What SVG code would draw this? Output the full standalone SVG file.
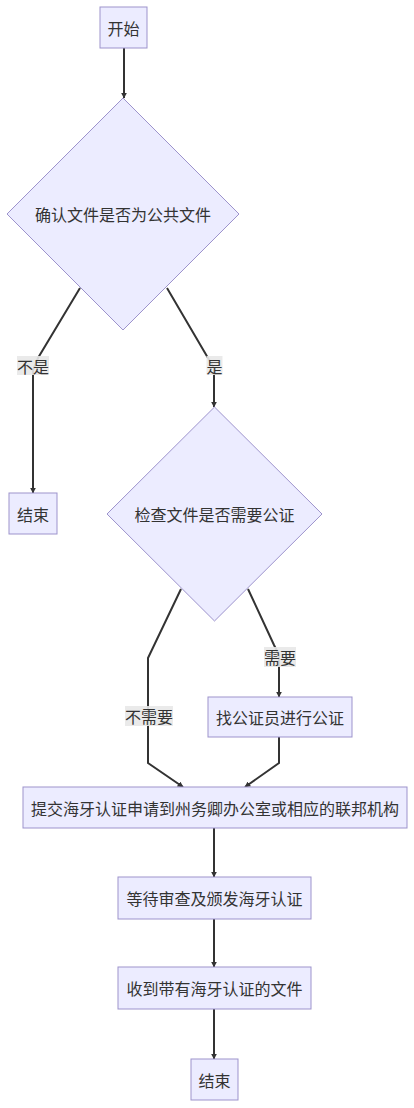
<svg xmlns="http://www.w3.org/2000/svg" width="414" height="1108" viewBox="0 0 414 1108">
<style>
.node{fill:#ECECFF;stroke:#9d93cc;stroke-width:1}
.t{font-family:"Noto Sans CJK SC","Liberation Sans",sans-serif;font-size:16px;fill:#333;text-anchor:middle;dominant-baseline:central}
.edge{fill:none;stroke:#333;stroke-width:2}
.lbl{fill:#e8e8e8;opacity:0.9}
</style>
<defs>
<marker id="arr" viewBox="0 0 10 10" refX="9" refY="5" markerWidth="6" markerHeight="6" orient="auto" markerUnits="userSpaceOnUse">
<path d="M0,0 L10,5 L0,10 z" fill="#333"/>
</marker>
</defs>
<rect width="414" height="1108" fill="#fff"/>
<g id="edges">
<path class="edge" d="M124,48 L124,98" marker-end="url(#arr)"/>
<path class="edge" d="M80,288 L38,358 L33,370 L33,493" marker-end="url(#arr)"/>
<path class="edge" d="M167,288 L208,358 L214,368 L214,407" marker-end="url(#arr)"/>
<path class="edge" d="M181,589 L148,658 L148,763 L183,787" marker-end="url(#arr)"/>
<path class="edge" d="M248,589 L274,645 L279,655 L279,697" marker-end="url(#arr)"/>
<path class="edge" d="M279,737 L279,763 L245,787" marker-end="url(#arr)"/>
<path class="edge" d="M214,828 L214,877" marker-end="url(#arr)"/>
<path class="edge" d="M214,919 L214,967" marker-end="url(#arr)"/>
<path class="edge" d="M214,1009 L214,1059" marker-end="url(#arr)"/>
</g>
<g id="edge-labels">
<g id="lbl-no"><rect class="lbl" x="17" y="356" width="32" height="19"/><text class="t" x="33" y="366">不是</text></g>
<g id="lbl-yes"><rect class="lbl" x="206.5" y="356" width="16" height="19"/><text class="t" x="214.5" y="366">是</text></g>
<g id="lbl-notneed"><rect class="lbl" x="125" y="706" width="48" height="20"/><text class="t" x="149" y="716">不需要</text></g>
<g id="lbl-need"><rect class="lbl" x="264" y="647" width="32" height="20"/><text class="t" x="280" y="657">需要</text></g>
</g>
<g id="start"><rect class="node" x="100" y="7" width="47" height="41"/><text class="t" x="123.5" y="28">开始</text></g>
<g id="check-public"><polygon class="node" points="123,98 239,214 123,330 7,214"/><text class="t" x="123" y="214">确认文件是否为公共文件</text></g>
<g id="end1"><rect class="node" x="9" y="493" width="48" height="41"/><text class="t" x="33" y="514">结束</text></g>
<g id="check-notary"><polygon class="node" points="214.5,407 322,514 214.5,621 107,514"/><text class="t" x="214.5" y="514">检查文件是否需要公证</text></g>
<g id="notary"><rect class="node" x="208" y="697" width="144" height="40"/><text class="t" x="280" y="717">找公证员进行公证</text></g>
<g id="submit"><rect class="node" x="23" y="787" width="384" height="41"/><text class="t" x="215" y="808">提交海牙认证申请到州务卿办公室或相应的联邦机构</text></g>
<g id="wait"><rect class="node" x="118" y="877" width="193" height="42"/><text class="t" x="214.5" y="898">等待审查及颁发海牙认证</text></g>
<g id="receive"><rect class="node" x="118" y="967" width="193" height="42"/><text class="t" x="214.5" y="988">收到带有海牙认证的文件</text></g>
<g id="end2"><rect class="node" x="191" y="1059" width="47" height="41"/><text class="t" x="214.5" y="1080">结束</text></g>
</svg>
